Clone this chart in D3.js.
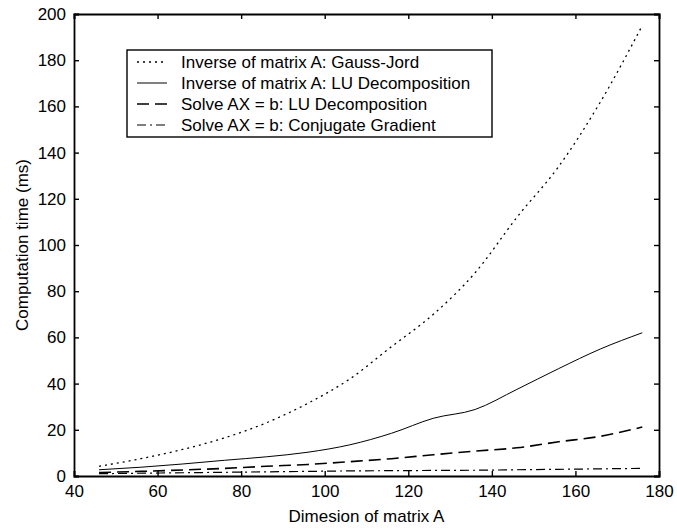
<!DOCTYPE html>
<html>
<head>
<meta charset="utf-8">
<script src="https://cdnjs.cloudflare.com/ajax/libs/d3/7.8.5/d3.min.js"></script>
<style>
  body { margin: 0; background: #fff; }
  svg { font-family: "Liberation Sans", Arial, sans-serif; display: block; }
  .lbl { font-size: 17px; fill: #000; }
</style>
</head>
<body>
<script>
// matrix dimension samples
var dims = [46, 56, 66, 76, 86, 96, 106, 116, 126, 136, 146, 156, 166, 176];
// computation time (ms)
var gaussJord = [4.2, 7.5, 11.5, 16.5, 23, 31.5, 42, 56, 70, 88, 112, 134, 162, 195];
var luInverse = [2.7, 3.8, 5.2, 6.8, 8.3, 10.3, 13.5, 18.5, 25, 28.8, 37.5, 46.5, 55, 62];
var luSolve = [1.5, 2.0, 2.6, 3.3, 4.2, 5.0, 6.2, 7.5, 9.2, 10.8, 12.2, 14.8, 17.2, 21.2];
var cgSolve = [1.0, 1.2, 1.4, 1.6, 1.8, 2.0, 2.2, 2.3, 2.4, 2.5, 2.7, 2.9, 3.1, 3.3];

var legendLabels = [
  "Inverse of matrix A: Gauss-Jord",
  "Inverse of matrix A: LU Decomposition",
  "Solve AX = b: LU Decomposition",
  "Solve AX = b: Conjugate Gradient"
];
var xTicks = [40, 60, 80, 100, 120, 140, 160, 180];
var yTicks = [0, 20, 40, 60, 80, 100, 120, 140, 160, 180, 200];

var series = [
  { vals: gaussJord, dash: "2,4", width: 1.3 },
  { vals: luInverse, dash: null, width: 1 },
  { vals: luSolve, dash: "12,6", width: 1.6 },
  { vals: cgSolve, dash: "9,4,2,4", width: 1.2 }
];

var W = 677, H = 530;
var mL = 74, mR = 659, mT = 14, mB = 476;

var x = d3.scaleLinear().domain([40, 180]).range([mL, mR]);
var y = d3.scaleLinear().domain([0, 200]).range([mB, mT]);

var svg = d3.select("body").append("svg")
  .attr("width", W)
  .attr("height", H);

// series
var line = d3.line()
  .x((d) => x(d[0]))
  .y((d) => y(d[1]))
  .curve(d3.curveMonotoneX);

series.forEach(function (s) {
  svg.append("path")
    .datum(dims.map((d, i) => [d, s.vals[i]]))
    .attr("d", line)
    .attr("fill", "none")
    .attr("stroke", "#000")
    .attr("stroke-width", s.width)
    .attr("stroke-dasharray", s.dash);
});

// axes, ticks inward on every side
var tk = 5;
svg.append("g").attr("transform", "translate(0," + mB + ")")
  .call(d3.axisBottom(x).tickValues(xTicks).tickSize(-tk).tickPadding(9).tickFormat(d3.format("d")));
svg.append("g").attr("transform", "translate(0," + mT + ")")
  .call(d3.axisTop(x).tickValues(xTicks).tickSize(-tk).tickFormat(""));
svg.append("g").attr("transform", "translate(" + mL + ",0)")
  .call(d3.axisLeft(y).tickValues(yTicks).tickSize(-tk).tickPadding(8).tickFormat(d3.format("d")));
svg.append("g").attr("transform", "translate(" + mR + ",0)")
  .call(d3.axisRight(y).tickValues(yTicks).tickSize(-tk).tickFormat(""));

svg.selectAll(".domain").attr("stroke", "#000").attr("stroke-width", 1.8);
svg.selectAll(".tick line").attr("stroke", "#000").attr("stroke-width", 1.4);
svg.selectAll(".tick text").attr("class", "lbl").attr("font-family", null).attr("font-size", null);

// axis titles
svg.append("text").attr("class", "lbl")
  .attr("x", (mL + mR) / 2).attr("y", 522)
  .attr("text-anchor", "middle")
  .text("Dimesion of matrix A");

svg.append("text").attr("class", "lbl")
  .attr("transform", "translate(28," + (mT + mB) / 2 + ") rotate(-90)")
  .attr("text-anchor", "middle")
  .text("Computation time (ms)");

// legend
var lg = svg.append("g");
lg.append("rect")
  .attr("x", 127).attr("y", 50)
  .attr("width", 365).attr("height", 87)
  .attr("fill", "#fff").attr("stroke", "#000").attr("stroke-width", 1.4);

legendLabels.forEach(function (t, i) {
  var yy = 62 + i * 21;
  lg.append("line")
    .attr("x1", 137).attr("x2", 167)
    .attr("y1", yy).attr("y2", yy)
    .attr("stroke", "#000")
    .attr("stroke-width", series[i].width)
    .attr("stroke-dasharray", series[i].dash);
  lg.append("text").attr("class", "lbl")
    .attr("x", 181).attr("y", yy)
    .attr("dy", "0.35em")
    .text(t);
});
</script>
</body>
</html>
